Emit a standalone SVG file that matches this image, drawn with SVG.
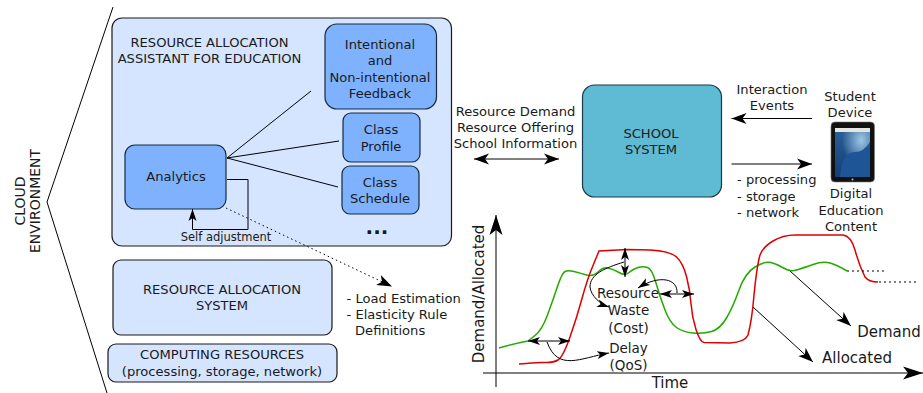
<svg xmlns="http://www.w3.org/2000/svg" width="923" height="393" viewBox="0 0 923 393">
<style>
text{font-family:"DejaVu Sans",sans-serif;font-size:13.1px;fill:#1a1a1a;text-anchor:middle}
.l{text-anchor:start}
.lg{font-size:15px}
.m{font-size:13.5px}
.s{font-size:11.5px}
.c{font-size:14px}
.pale{fill:#d5e5ff;stroke:#1a1a1a;stroke-width:1.2}
.mid{fill:#7eb2ff;stroke:#1a2a3a;stroke-width:1.2}
.ln{fill:none;stroke:#000;stroke-width:1}
.a{marker-end:url(#ah)}
.b{marker-start:url(#ahs);marker-end:url(#ah)}
.sa{marker-end:url(#sm)}
.sb{marker-start:url(#sms);marker-end:url(#sm)}
.ax{marker-end:url(#big)}
</style>
<defs>
<marker id="ah" markerUnits="userSpaceOnUse" markerWidth="16" markerHeight="12" refX="15" refY="6" orient="auto"><path d="M0 .5L15 6L0 11.500L4 6Z" fill="#000"/></marker>
<marker id="ahs" markerUnits="userSpaceOnUse" markerWidth="16" markerHeight="12" refX="0" refY="6" orient="auto"><path d="M15 .5L0 6L15 11.500L11 6Z" fill="#000"/></marker>
<marker id="sm" markerUnits="userSpaceOnUse" markerWidth="13" markerHeight="9" refX="12" refY="4.500" orient="auto"><path d="M0 .5L12 4.500L0 8.500L3 4.500Z" fill="#000"/></marker>
<marker id="sms" markerUnits="userSpaceOnUse" markerWidth="13" markerHeight="9" refX="0" refY="4.500" orient="auto"><path d="M12 .5L0 4.500L12 8.500L9 4.500Z" fill="#000"/></marker>
<marker id="big" markerUnits="userSpaceOnUse" markerWidth="21" markerHeight="14" refX="20" refY="7" orient="auto"><path d="M0 .5L20 7L0 13.500L5 7Z" fill="#000"/></marker>
<linearGradient id="scr" x1="0" y1="0" x2="0" y2="1"><stop offset="0" stop-color="#2b5f98"/><stop offset="1" stop-color="#143f78"/></linearGradient>
<radialGradient id="glow" cx=".75" cy=".25" r=".55"><stop offset="0" stop-color="#9cc6e4"/><stop offset="1" stop-color="#9cc6e4" stop-opacity="0"/></radialGradient>
</defs>
<g id="cloud-boundary"><path class="ln" d="M113 7L47 202L107 393"/><text class="c" transform="translate(24.500 201) rotate(-90)">CLOUD</text><text class="c" transform="translate(40 201) rotate(-90)">ENVIRONMENT</text></g>
<g id="assistant"><rect class="pale" x="112" y="18" width="339.500" height="228" rx="10"/><text x="209.500" y="47">RESOURCE ALLOCATION</text><text x="209.500" y="63">ASSISTANT FOR EDUCATION</text></g>
<g id="feedback"><rect class="mid" x="325" y="24" width="111.500" height="85" rx="12"/><text x="380" y="49">Intentional</text><text x="380" y="65">and</text><text x="380" y="82">Non-intentional</text><text x="380" y="98">Feedback</text></g>
<g id="profile"><rect class="mid" x="343" y="113" width="77" height="49" rx="8"/><text x="381" y="134">Class</text><text x="381" y="151">Profile</text></g>
<g id="schedule"><rect class="mid" x="342" y="166" width="77" height="48" rx="8"/><text x="380" y="187">Class</text><text x="380" y="203">Schedule</text></g>
<g id="analytics"><rect class="mid" x="125" y="145" width="101" height="64" rx="10"/><text x="176" y="181">Analytics</text></g>
<text x="377" y="234" style="font-size:20px;font-weight:bold">...</text>
<g id="allocation"><rect class="pale" x="113" y="260" width="219" height="75" rx="8"/><text x="222" y="294">RESOURCE ALLOCATION</text><text x="222" y="310">SYSTEM</text></g>
<g id="computing"><rect class="pale" x="108" y="344" width="229" height="38" rx="8"/><text x="222" y="359">COMPUTING RESOURCES</text><text x="222" y="376">(processing, storage, network)</text></g>
<g id="school"><rect x="582.500" y="85" width="139" height="112" rx="12" fill="#5fbbd3" stroke="#1a3a4a" stroke-width="1.2"/><text x="651" y="138">SCHOOL</text><text x="651" y="154">SYSTEM</text></g>
<g id="device"><rect x="831" y="122" width="43.500" height="60" rx="4" fill="#111" stroke="#777" stroke-width=".6"/><rect x="835" y="128" width="35" height="49" fill="url(#scr)"/><rect x="835" y="128" width="35" height="49" fill="url(#glow)"/><path d="M840 177Q842 152 855 152Q864 152 870 142V177Z" fill="#1d5596"/><rect x="835" y="128" width="35" height="4" fill="#e4e4e0"/><circle cx="852.500" cy="179.500" r="1" fill="#bbb"/></g>
<g id="connectors">
<path class="ln" d="M227 158L311 91M227 158L339 141M227 158L338 187"/>
<path class="ln sa" d="M227 179.500H248V229.500H192.500V209"/>
<path class="ln a" d="M226 208L392 286.500" stroke-dasharray="1.500 3"/>
<path class="ln b" d="M474 159H559"/>
<path class="ln a" d="M812 118.500H731.500"/>
<path class="ln a" d="M731.500 164H812"/>
<path class="ln ax" d="M496 387V215"/>
<path class="ln ax" d="M483 373H923"/>
<path fill="none" stroke="#22aa00" stroke-width="1.500" d="M499 348Q512 344 528 341Q528 341 535 335.500Q542 330 547.500 315Q553 300 557.500 286.500Q562 273 565 271.500Q568 270 574 271.500Q580 273 586.500 275Q593 277 598 272Q603 267 608 268Q613 269 619 272.500Q625 276 629 272.500Q633 269 638 267.500Q643 266 647.500 267.500Q652 269 656 283Q660 297 665 310Q670 323 676.500 327.500Q683 332 693 333Q703 334 711.500 331.500Q720 329 726.500 318Q733 307 739 290Q745 273 755 267Q765 261 771 262.500Q777 264 783.500 268Q790 272 796.500 270Q803 268 813 264.500Q823 261 830 263Q837 265 847 271"/>
<path fill="none" stroke="#dd0000" stroke-width="1.500" d="M519 364Q537 362 545 362.500Q553 363 558 360Q563 357 570 337Q577 317 582 298.500Q587 280 593 265.500L599 251L627 249.500L650 250Q670 251 676.500 257Q683 263 686.500 276.500Q690 290 691 303.500Q692 317 696 329.500Q700 342 704 342.500L730 343Q745 342 748 335Q752 320 754 295Q757 265 760 255Q763 247 773 241Q783 235 795 235L843 235Q851 236 855 250Q859 265 865 277Q869 282 878 282"/>
<path class="ln" d="M847 271H886M879 282H919" stroke-dasharray="2 3"/>
<path class="ln sb" d="M625 248V277"/>
<path class="ln sa" d="M624 262C605 268 590 274 590 287C591 296 600 304 609 307"/>
<path class="ln sb" d="M660 294H694"/>
<path class="ln sa" d="M677 293C678 279 660 274 638 288"/>
<path class="ln sb" d="M528 341H570"/>
<path class="ln sa" d="M547 342C558 372 580 358 609 353"/>
<path class="ln a" d="M790 271L851 326"/>
<path class="ln a" d="M753 307L813 362"/>
</g>
<text class="s" x="226" y="241">Self adjustment</text>
<text class="l" x="346.500" y="303">- Load Estimation</text><text class="l" x="346.500" y="319">- Elasticity Rule</text><text class="l" x="355" y="335">Definitions</text>
<text x="515.500" y="116">Resource Demand</text><text x="515.500" y="132">Resource Offering</text><text x="515.500" y="148">School Information</text>
<text x="772" y="94">Interaction</text><text x="772" y="110">Events</text>
<text x="850" y="101">Student</text><text x="850" y="117">Device</text>
<text class="l" x="737" y="184">- processing</text><text class="l" x="737" y="201">- storage</text><text class="l" x="737" y="217">- network</text>
<text x="851" y="198">Digital</text><text x="851" y="215">Education</text><text x="851" y="231">Content</text>
<text class="m" x="628" y="298">Resource</text><text class="m" x="628.500" y="315">Waste</text><text class="m" x="628.500" y="333">(Cost)</text>
<text class="m" x="628.500" y="353">Delay</text><text class="m" x="628.500" y="370">(QoS)</text>
<text class="lg" x="670" y="388">Time</text><text class="lg" x="889" y="337">Demand</text><text class="lg" x="857" y="363">Allocated</text>
<text class="lg" transform="translate(484 294) rotate(-90)">Demand/Allocated</text>
</svg>
